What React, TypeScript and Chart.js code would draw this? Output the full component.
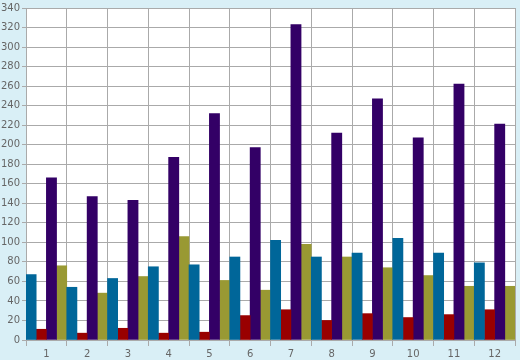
import React, { useEffect, useRef } from "react";
import { Chart, registerables } from "chart.js";

Chart.register(...registerables);

const categories = ["1", "2", "3", "4", "5", "6", "7", "8", "9", "10", "11", "12"];
const seriesBlue = [67, 54, 63, 75, 77, 85, 102, 85, 89, 104, 89, 79];
const seriesRed = [11, 7, 12, 7, 8, 25, 31, 20, 27, 23, 26, 31];
const seriesPurple = [166, 147, 143, 187, 232, 197, 323, 212, 247, 207, 262, 221];
const seriesOlive = [76, 48, 65, 106, 61, 51, 98, 85, 74, 66, 55, 55];

const yMin = 0;
const yMax = 340;
const yStep = 20;

export default function App() {
  const ref = useRef<HTMLCanvasElement | null>(null);

  useEffect(() => {
    document.body.style.margin = "0";
    const canvas = ref.current;
    if (!canvas) return;
    const bg = {
      id: "bg",
      beforeDraw(chart: any) {
        const { ctx, chartArea } = chart;
        ctx.save();
        ctx.fillStyle = "#D9EFF6";
        ctx.fillRect(0, 0, chart.width, chart.height);
        ctx.fillStyle = "#FFFFFF";
        ctx.fillRect(chartArea.left, chartArea.top, chartArea.right - chartArea.left, chartArea.bottom - chartArea.top);
        ctx.restore();
      },
    };
    const chart = new Chart(canvas, {
      type: "bar",
      data: {
        labels: categories,
        datasets: [
          { data: seriesBlue, backgroundColor: "#006699" },
          { data: seriesRed, backgroundColor: "#990000" },
          { data: seriesPurple, backgroundColor: "#330066" },
          { data: seriesOlive, backgroundColor: "#999933" },
        ],
      },
      options: {
        animation: false,
        responsive: false,
        maintainAspectRatio: false,
        layout: { padding: { left: 0, top: 5, right: 5, bottom: 0 } },
        plugins: { legend: { display: false }, tooltip: { enabled: false } },
        datasets: { bar: { barPercentage: 1, categoryPercentage: 1 } },
        scales: {
          x: {
            offset: true,
            grid: { offset: true, color: "#AAAAAA", lineWidth: 1, tickLength: 6, drawTicks: true },
            border: { color: "#AAAAAA" },
            ticks: { color: "#666666", font: { family: "DejaVu Sans", size: 10 }, padding: 2, maxRotation: 0 },
            afterFit(scale: any) {
              scale.height = 20;
            },
          },
          y: {
            min: yMin,
            max: yMax,
            grid: { color: "#AAAAAA", lineWidth: 1, tickLength: 4 },
            border: { color: "#AAAAAA" },
            ticks: { stepSize: yStep, color: "#666666", font: { family: "DejaVu Sans", size: 10 }, padding: 2 },
            afterFit(scale: any) {
              scale.width = 26;
            },
          },
        },
      },
      plugins: [bg],
    });
    return () => chart.destroy();
  }, []);

  return (
    <div style={{ position: "fixed", left: 0, top: 0, width: 520, height: 360 }}>
      <canvas ref={ref} width={520} height={360} style={{ display: "block", width: 520, height: 360 }} />
    </div>
  );
}
